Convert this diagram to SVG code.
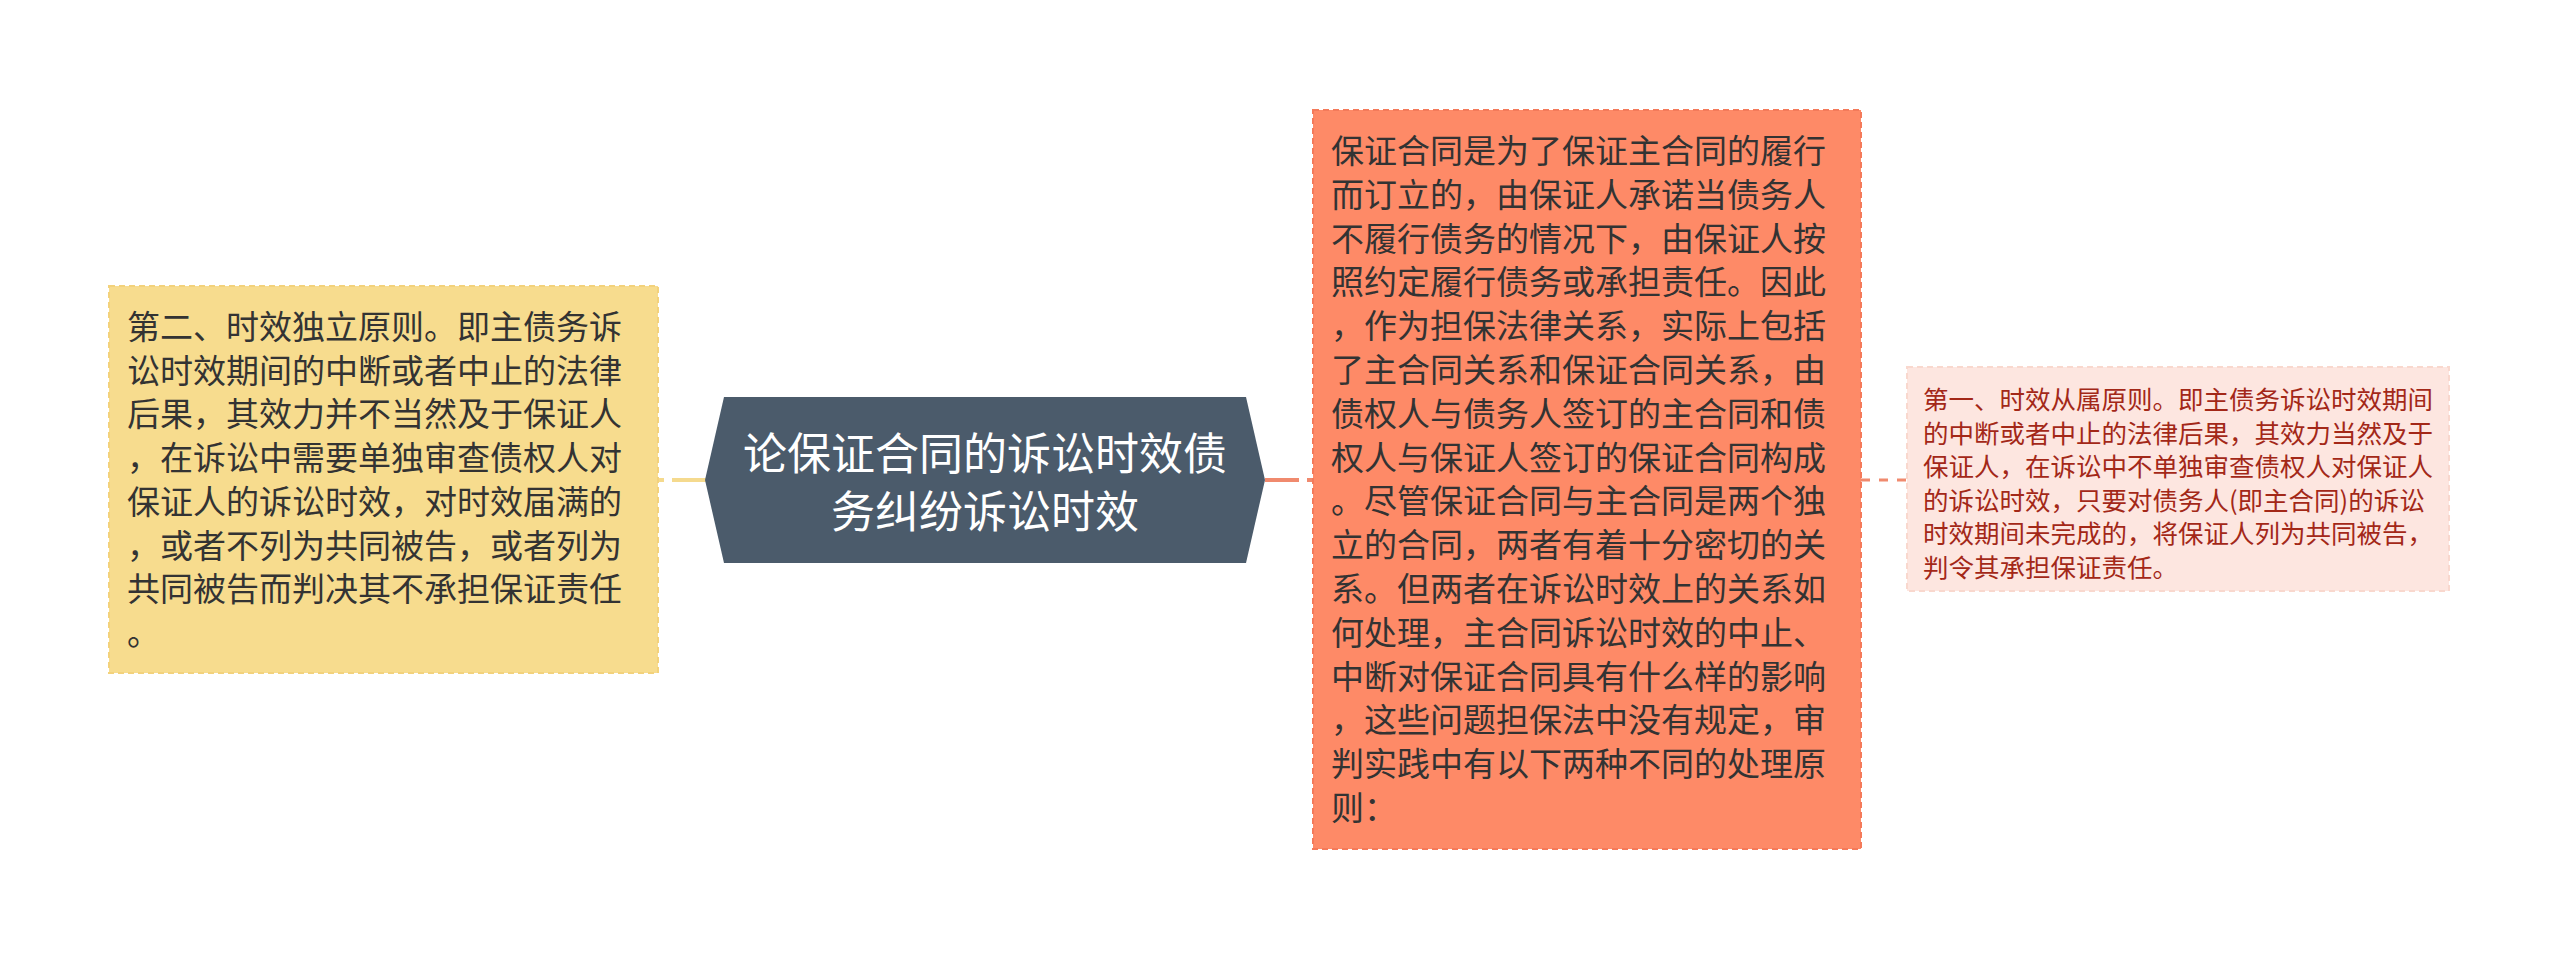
<svg xmlns="http://www.w3.org/2000/svg" width="2560" height="960" viewBox="0 0 2560 960">
<style>
text{font-family:"Noto Sans CJK SC","Noto Sans",sans-serif;dominant-baseline:central}
.t-left{font-size:33px;fill:#333333}
.t-mid{font-size:33px;fill:#333333}
.t-right{font-size:25.5px;fill:#a32818}
.t-root{font-size:44px;fill:#ffffff}
</style>
<rect width="2560" height="960" fill="#ffffff"/>
<g id="connectors" fill="none">
<line x1="706" y1="480" x2="658" y2="480" stroke="#f5da8e" stroke-width="4" stroke-dasharray="34,8"/>
<line x1="1265" y1="480" x2="1313" y2="480" stroke="#f08a6e" stroke-width="4" stroke-dasharray="34,8"/>
<line x1="1861" y1="480" x2="1907" y2="480" stroke="#f08a6e" stroke-width="3" stroke-dasharray="9,9"/>
</g>
<g id="root">
<polygon points="724,397 1246,397 1265,480 1246,563 724,563 705,480" fill="#4b5b6b"/>
<text class="t-root" x="985" y="451" text-anchor="middle">论保证合同的诉讼时效债</text>
<text class="t-root" x="985" y="509" text-anchor="middle">务纠纷诉讼时效</text>
</g>
<g id="left">
<rect x="109" y="286" width="549" height="387" fill="#f7dc8e" stroke="#f3d27c" stroke-width="2" stroke-dasharray="6,4"/>
<text class="t-left">
<tspan x="127" y="325">第二、时效独立原则。即主债务诉</tspan>
<tspan x="127" y="368.7">讼时效期间的中断或者中止的法律</tspan>
<tspan x="127" y="412.4">后果，其效力并不当然及于保证人</tspan>
<tspan x="127" y="456.1">，在诉讼中需要单独审查债权人对</tspan>
<tspan x="127" y="499.8">保证人的诉讼时效，对时效届满的</tspan>
<tspan x="127" y="543.5">，或者不列为共同被告，或者列为</tspan>
<tspan x="127" y="587.2">共同被告而判决其不承担保证责任</tspan>
<tspan x="127" y="630.9">。</tspan>
</text>
</g>
<g id="middle">
<rect x="1313" y="110" width="548" height="739" fill="#fe8a67" stroke="#f47a5a" stroke-width="2" stroke-dasharray="6,4"/>
<text class="t-mid">
<tspan x="1331" y="149">保证合同是为了保证主合同的履行</tspan>
<tspan x="1331" y="192.8">而订立的，由保证人承诺当债务人</tspan>
<tspan x="1331" y="236.6">不履行债务的情况下，由保证人按</tspan>
<tspan x="1331" y="280.4">照约定履行债务或承担责任。因此</tspan>
<tspan x="1331" y="324.2">，作为担保法律关系，实际上包括</tspan>
<tspan x="1331" y="368">了主合同关系和保证合同关系，由</tspan>
<tspan x="1331" y="411.8">债权人与债务人签订的主合同和债</tspan>
<tspan x="1331" y="455.6">权人与保证人签订的保证合同构成</tspan>
<tspan x="1331" y="499.4">。尽管保证合同与主合同是两个独</tspan>
<tspan x="1331" y="543.2">立的合同，两者有着十分密切的关</tspan>
<tspan x="1331" y="587">系。但两者在诉讼时效上的关系如</tspan>
<tspan x="1331" y="630.8">何处理，主合同诉讼时效的中止、</tspan>
<tspan x="1331" y="674.6">中断对保证合同具有什么样的影响</tspan>
<tspan x="1331" y="718.4">，这些问题担保法中没有规定，审</tspan>
<tspan x="1331" y="762.2">判实践中有以下两种不同的处理原</tspan>
<tspan x="1331" y="806">则：</tspan>
</text>
</g>
<g id="right">
<rect x="1907" y="367" width="542" height="224" fill="#fde6e0" stroke="#f9d8ce" stroke-width="2" stroke-dasharray="6,4"/>
<text class="t-right">
<tspan x="1923" y="397">第一、时效从属原则。即主债务诉讼时效期间</tspan>
<tspan x="1923" y="430.6">的中断或者中止的法律后果，其效力当然及于</tspan>
<tspan x="1923" y="464.2">保证人，在诉讼中不单独审查债权人对保证人</tspan>
<tspan x="1923" y="497.8">的诉讼时效，只要对债务人(即主合同)的诉讼</tspan>
<tspan x="1923" y="531.4">时效期间未完成的，将保证人列为共同被告，</tspan>
<tspan x="1923" y="565">判令其承担保证责任。</tspan>
</text>
</g>
</svg>
